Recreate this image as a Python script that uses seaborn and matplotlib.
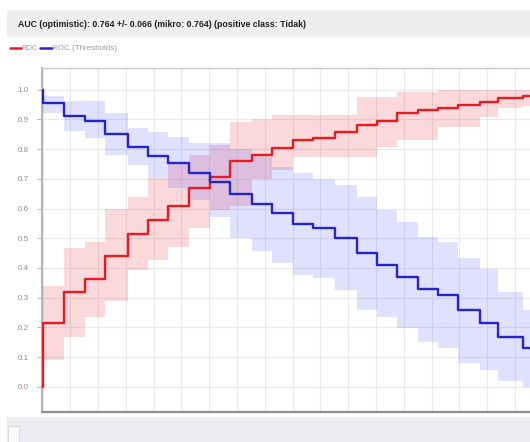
import matplotlib
matplotlib.use("Agg")
import matplotlib.pyplot as plt
from matplotlib.patches import Rectangle
from matplotlib.lines import Line2D
import seaborn as sns
import pandas as pd

# Fraction of false positives at which each averaged step starts
fpr = [0.000, 0.039, 0.076, 0.113, 0.153, 0.189, 0.226, 0.264, 0.302, 0.338,
       0.377, 0.413, 0.451, 0.487, 0.527, 0.566, 0.602, 0.638, 0.676, 0.712,
       0.748, 0.787, 0.820, 0.865]
fpr_end = 0.90

# ROC: mean true-positive rate and the +/- std band
roc_mean = [0.215, 0.320, 0.362, 0.440, 0.515, 0.560, 0.609, 0.670, 0.705, 0.760,
            0.780, 0.805, 0.830, 0.836, 0.858, 0.881, 0.895, 0.920, 0.931, 0.939,
            0.950, 0.959, 0.971, 0.978]
roc_upper = [0.339, 0.466, 0.488, 0.600, 0.640, 0.707, 0.750, 0.780, 0.813, 0.892,
             0.900, 0.915, 0.915, 0.915, 0.915, 0.976, 0.976, 0.993, 0.993, 1.000,
             1.000, 1.000, 1.000, 1.000]
roc_lower = [0.090, 0.168, 0.236, 0.290, 0.393, 0.426, 0.471, 0.533, 0.595, 0.610,
             0.700, 0.730, 0.774, 0.774, 0.774, 0.774, 0.808, 0.830, 0.830, 0.875,
             0.875, 0.909, 0.937, 0.945]

# ROC (Thresholds): mean threshold and the +/- std band
thr_mean = [0.954, 0.911, 0.895, 0.851, 0.808, 0.778, 0.754, 0.718, 0.690, 0.649,
            0.615, 0.584, 0.548, 0.533, 0.500, 0.449, 0.410, 0.368, 0.328, 0.309,
            0.258, 0.215, 0.166, 0.131]
thr_upper = [0.978, 0.962, 0.962, 0.920, 0.870, 0.858, 0.841, 0.819, 0.819, 0.800,
             0.774, 0.740, 0.718, 0.700, 0.679, 0.640, 0.595, 0.555, 0.505, 0.488,
             0.432, 0.395, 0.320, 0.260]
thr_lower = [0.920, 0.862, 0.839, 0.780, 0.746, 0.707, 0.668, 0.628, 0.572, 0.500,
             0.457, 0.415, 0.376, 0.365, 0.325, 0.258, 0.236, 0.197, 0.151, 0.129,
             0.079, 0.058, 0.020, 0.000]

title_text = "AUC (optimistic): 0.764 +/- 0.066 (mikro: 0.764) (positive class: Tidak)"
legend_labels = ["ROC", "ROC (Thresholds)"]
y_ticks = [0.0, 0.1, 0.2, 0.3, 0.4, 0.5, 0.6, 0.7, 0.8, 0.9, 1.0]

RED = "#ea1a20"
BLUE = "#2424cc"
BAND_BLUE = "#3030ff"
NARROW = ["Liberation Sans Narrow", "Liberation Sans", "DejaVu Sans"]

sns.set_theme(style="whitegrid")
plt.rcParams["font.family"] = NARROW

W, H = 530, 442
fig = plt.figure(figsize=(W / 100, H / 100), dpi=100)
fig.patch.set_facecolor("white")
renderer = fig.canvas.get_renderer()


def fx(px):
    return px / W


def fy(py):
    return 1 - py / H


def fit_width(text_artist, target_px, max_size):
    """Shrink a text until it spans about target_px pixels."""
    width = text_artist.get_window_extent(renderer).width
    if width > target_px:
        text_artist.set_fontsize(max_size * target_px / width)


# header band with the AUC summary
fig.add_artist(Rectangle((fx(7), fy(37)), fx(530) - fx(7), fy(10) - fy(37),
                         transform=fig.transFigure, facecolor="#eeeef1",
                         edgecolor="none", zorder=0))
title = fig.text(fx(18), fy(24.5), title_text, ha="left", va="center",
                 fontsize=7.0, fontweight="bold", color="#1e1e1e")
fit_width(title, 290, 7.0)

# legend row
fig.add_artist(Line2D([fx(10), fx(20.5)], [fy(48), fy(48)], color=RED, lw=1.8,
                      transform=fig.transFigure))
t1 = fig.text(fx(21.5), fy(48), legend_labels[0], ha="left", va="center",
              fontsize=5.8, color="#9a9a9a")
fit_width(t1, 16, 5.8)
fig.add_artist(Line2D([fx(40), fx(51.5)], [fy(48), fy(48)], color=BLUE, lw=1.8,
                      transform=fig.transFigure))
t2 = fig.text(fx(52.5), fy(48), legend_labels[1], ha="left", va="center",
              fontsize=5.8, color="#9a9a9a")
fit_width(t2, 66, 5.8)

# bottom status band
fig.add_artist(Rectangle((fx(7), fy(442)), fx(530) - fx(7), fy(417) - fy(442),
                         transform=fig.transFigure, facecolor="#ececf0",
                         edgecolor="none", zorder=0))
fig.add_artist(Rectangle((fx(8), fy(442)), fx(19) - fx(8), fy(426) - fy(442),
                         transform=fig.transFigure, facecolor="#fafafc",
                         edgecolor="#d4d4da", lw=0.6, zorder=1))

# plot area (runs off the right edge of the canvas)
x_left_px, x_right_px = 42, 598.2
ax = fig.add_axes([fx(x_left_px), fy(412), fx(x_right_px) - fx(x_left_px),
                   fy(68) - fy(412)])
ax.set_facecolor("white")

xs = fpr + [fpr_end]


def ext(vals):
    return vals + [vals[-1]]


ax.fill_between(xs, ext(roc_lower), ext(roc_upper), step="post",
                color=RED, alpha=0.17, lw=0, zorder=1)
ax.fill_between(xs, ext(thr_lower), ext(thr_upper), step="post",
                color=BAND_BLUE, alpha=0.15, lw=0, zorder=1)

roc_df = pd.DataFrame({"x": [0.0] + xs, "y": [0.0] + ext(roc_mean)})
thr_df = pd.DataFrame({"x": [0.0] + xs, "y": [1.0] + ext(thr_mean)})
sns.lineplot(data=roc_df, x="x", y="y", estimator=None, sort=False,
             drawstyle="steps-post", color=RED, lw=1.7, ax=ax, zorder=3)
sns.lineplot(data=thr_df, x="x", y="y", estimator=None, sort=False,
             drawstyle="steps-post", color=BLUE, lw=1.7, ax=ax, zorder=3)

ax.set_xlim(-0.001, 1.0)
ax.set_ylim(-0.085, 1.073)
ax.set_xlabel("")
ax.set_ylabel("")

ax.set_xticks([i * 0.05 for i in range(21)])
ax.set_xticklabels([])
ax.tick_params(axis="x", length=0)
ax.set_yticks(y_ticks)
ax.set_yticklabels([f"{v:.1f}" for v in y_ticks])
ax.tick_params(axis="y", length=3.5, width=0.7, color="#b4b4b4", pad=6,
               labelsize=5.8, labelcolor="#8e8e8e", left=True)
ax.grid(True, color="#e9e9e9", lw=0.8)

ax.spines["right"].set_visible(False)
ax.spines["left"].set_color("#a6a6a6")
ax.spines["left"].set_linewidth(1.2)
ax.spines["top"].set_color("#c8c8c8")
ax.spines["top"].set_linewidth(1.0)
ax.spines["bottom"].set_color("#8e8e8e")
ax.spines["bottom"].set_linewidth(1.6)

fig.savefig("out.png", dpi=100)
